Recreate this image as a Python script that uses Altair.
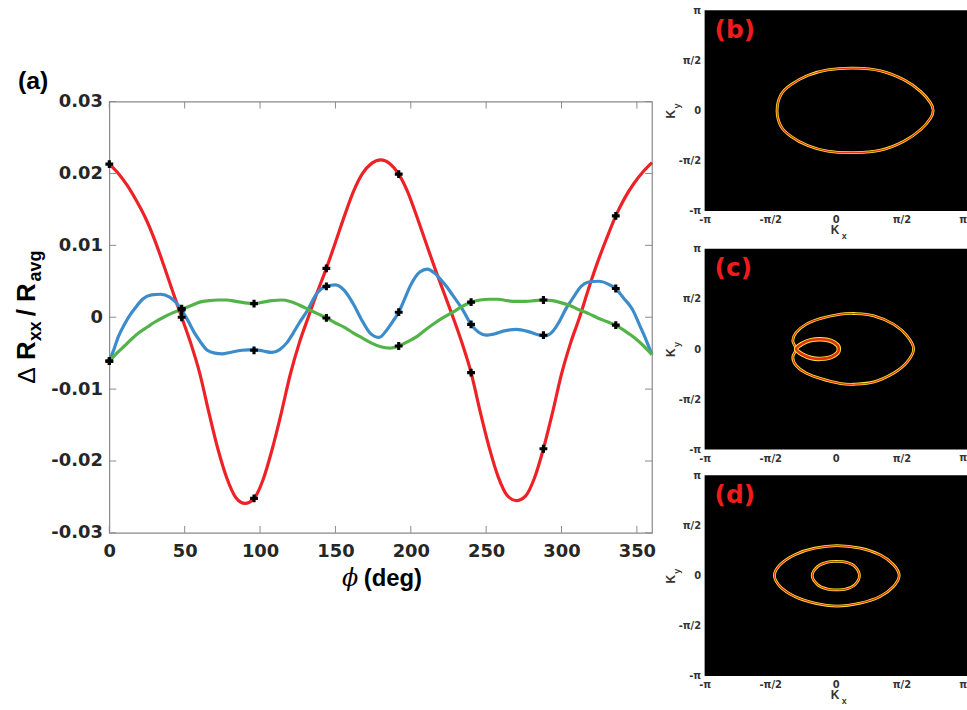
import altair as alt
import pandas as pd

# ---------------- panel (a) data ----------------
red_phi = [0, 6, 12, 18, 24, 30, 36, 42, 48, 54, 60, 66, 72, 78, 84, 90, 96, 102, 108, 114, 120,
           126, 132, 138, 144, 150, 156, 162, 168, 174, 180, 186, 192, 198, 204, 210, 216, 222, 228,
           234, 240, 246, 252, 258, 264, 270, 276, 282, 288, 294, 300, 306, 312, 318, 324, 330, 336,
           342, 348, 354, 360]
red_val = [0.0213, 0.0200, 0.0183, 0.0162, 0.0138, 0.0108, 0.0073, 0.0036, 0.0000, -0.0036, -0.0078,
           -0.0132, -0.0183, -0.0224, -0.0251, -0.0259, -0.0252, -0.0226, -0.0184, -0.0134, -0.0080,
           -0.0036, 0.0000, 0.0035, 0.0068, 0.0104, 0.0141, 0.0175, 0.0200, 0.0214, 0.0219, 0.0214,
           0.0199, 0.0174, 0.0140, 0.0104, 0.0068, 0.0034, 0.0000, -0.0036, -0.0077, -0.0131, -0.0181,
           -0.0222, -0.0248, -0.0255, -0.0249, -0.0224, -0.0183, -0.0133, -0.0079, -0.0036, 0.0000,
           0.0040, 0.0077, 0.0110, 0.0141, 0.0166, 0.0186, 0.0202, 0.0215]

blue_phi = [0, 3, 6, 10, 14, 18, 22, 28, 34, 40, 44, 48, 52, 56, 60, 65, 70, 75, 80, 88, 96, 102,
            108, 113, 118, 122, 126, 131, 138, 144, 150, 156, 162, 167, 173, 179, 184, 188, 192, 196,
            200, 206, 211, 216, 220, 224, 228, 234, 240, 245, 250, 256, 262, 270, 278, 284, 289, 294,
            298, 303, 308, 313, 318, 325, 331, 336, 341, 347, 352, 356, 360]
blue_val = [-0.0061, -0.0045, -0.0027, -0.0010, 0.0004, 0.0015, 0.0025, 0.0031, 0.0032, 0.0028,
            0.0021, 0.0010, -0.0004, -0.0020, -0.0033, -0.0046, -0.0050, -0.0051, -0.0049, -0.0046,
            -0.0045, -0.0047, -0.0049, -0.0045, -0.0035, -0.0022, -0.0008, 0.0008, 0.0034, 0.0043,
            0.0045, 0.0037, 0.0018, -0.0002, -0.0022, -0.0028, -0.0018, -0.0006, 0.0007, 0.0026,
            0.0045, 0.0063, 0.0067, 0.0061, 0.0052, 0.0042, 0.0030, 0.0012, -0.0010, -0.0021,
            -0.0025, -0.0023, -0.0019, -0.0017, -0.0020, -0.0024, -0.0026, -0.0020, -0.0008, 0.0012,
            0.0028, 0.0043, 0.0049, 0.0050, 0.0046, 0.0040, 0.0027, 0.0011, -0.0012, -0.0031, -0.0052]

green_phi = [0, 5, 10, 15, 20, 25, 30, 36, 42, 48, 54, 60, 66, 72, 78, 84, 90, 96, 102, 108, 114,
             120, 126, 132, 138, 144, 150, 156, 162, 168, 174, 180, 186, 192, 198, 204, 210, 216,
             222, 228, 234, 240, 246, 252, 258, 264, 270, 276, 282, 288, 294, 300, 306, 312, 318,
             324, 330, 336, 342, 348, 354, 360]
green_val = [-0.0061, -0.0050, -0.0040, -0.0030, -0.0021, -0.0014, -0.0007, 0.0000, 0.0006, 0.0011,
             0.0016, 0.0021, 0.0023, 0.0024, 0.0024, 0.0022, 0.0020, 0.0019, 0.0021, 0.0023, 0.0024,
             0.0022, 0.0017, 0.0011, 0.0005, -0.0001, -0.0008, -0.0014, -0.0022, -0.0029, -0.0036,
             -0.0041, -0.0043, -0.0040, -0.0034, -0.0027, -0.0017, -0.0008, 0.0000, 0.0007, 0.0015,
             0.0021, 0.0024, 0.0025, 0.0025, 0.0023, 0.0022, 0.0022, 0.0023, 0.0024, 0.0023, 0.0020,
             0.0016, 0.0010, 0.0005, -0.0001, -0.0006, -0.0011, -0.0019, -0.0028, -0.0039, -0.0052]

marker_phi = [0, 48, 96, 144, 192, 240, 288, 336]
marker_red = [0.0213, 0.0012, -0.0252, 0.0068, 0.0199, -0.0077, -0.0183, 0.0141]
marker_blue = [-0.0061, 0.0000, -0.0046, 0.0043, 0.0007, -0.0010, -0.0025, 0.0040]
marker_green = [-0.0061, 0.0010, 0.0019, -0.0001, -0.0040, 0.0021, 0.0024, -0.0011]

series_names = ["red", "blue", "green"]
series_colors = ["#ec2227", "#3c8ccb", "#52b448"]

x_ticks = [0, 50, 100, 150, 200, 250, 300, 350]
y_ticks = [-0.03, -0.02, -0.01, 0, 0.01, 0.02, 0.03]

# ---------------- panels (b)-(d) data: contour points in units of pi ----------------
b_outer_kx = [-0.448, -0.418, -0.342, -0.215, -0.063, 0.139, 0.342, 0.519, 0.646, 0.722, 0.742,
              0.722, 0.646, 0.519, 0.342, 0.139, -0.063, -0.215, -0.342, -0.418]
b_outer_ky = [0.0, 0.158, 0.257, 0.349, 0.405, 0.422, 0.395, 0.306, 0.191, 0.076, 0.0,
              -0.076, -0.191, -0.306, -0.395, -0.420, -0.405, -0.349, -0.257, -0.158]

c_outer_kx = [-0.303, -0.328, -0.303, -0.227, -0.114, 0.038, 0.139, 0.290, 0.442, 0.543, 0.593,
              0.543, 0.442, 0.290, 0.139, 0.038, -0.114, -0.227, -0.303, -0.328, -0.303]
c_outer_ky = [0.010, 0.082, 0.164, 0.246, 0.305, 0.348, 0.354, 0.331, 0.246, 0.131, 0.0,
              -0.131, -0.239, -0.328, -0.351, -0.344, -0.295, -0.239, -0.164, -0.082, -0.010]
c_inner_kx = [-0.303, -0.253, -0.189, -0.114, -0.038, 0.013, 0.023, 0.013, -0.038, -0.114, -0.189, -0.253]
c_inner_ky = [0.0, 0.056, 0.089, 0.098, 0.082, 0.039, 0.0, -0.039, -0.082, -0.098, -0.089, -0.056]

d_outer_kx = [-0.468, -0.425, -0.3125, -0.1625, 0.01, 0.1875, 0.3375, 0.44, 0.483, 0.44, 0.3375,
              0.1875, 0.01, -0.1625, -0.3125, -0.425]
d_outer_ky = [0.0, 0.108, 0.208, 0.273, 0.299, 0.273, 0.207, 0.108, 0.0, -0.108, -0.207, -0.273,
              -0.303, -0.273, -0.208, -0.108]
d_inner_kx = [-0.18, -0.1375, -0.0625, 0.005, 0.075, 0.145, 0.18, 0.145, 0.075, 0.005, -0.0625, -0.1375]
d_inner_ky = [0.0, 0.092, 0.135, 0.141, 0.135, 0.092, 0.0, -0.092, -0.135, -0.141, -0.135, -0.092]

pi_ticks_x = [-1, -0.5, 0, 0.5]
pi_ticks_y = [-1, -0.5, 0, 0.5, 1]

# ---------------- build tables ----------------
curve_rows = []
for name, ph, vals in [("red", red_phi, red_val), ("blue", blue_phi, blue_val), ("green", green_phi, green_val)]:
    for p, v in zip(ph, vals):
        curve_rows.append({"phi": p, "val": v, "series": name})
curve_df = pd.DataFrame(curve_rows)

marker_rows = []
for name, vals in [("red", marker_red), ("blue", marker_blue), ("green", marker_green)]:
    for p, v in zip(marker_phi, vals):
        marker_rows.append({"phi": p, "val": v, "series": name})
marker_df = pd.DataFrame(marker_rows)

one = pd.DataFrame({"k": [0]})

W, H = 546, 434
AXC = "#8a8a8a"
TXT = "#262626"

xs = alt.Scale(domain=[0, 360], nice=False, zero=False)
ys = alt.Scale(domain=[-0.03, 0.03], nice=False, zero=False)
x_axis = alt.Axis(values=x_ticks, domain=False, ticks=False, grid=False, labelFont="DejaVu Sans",
                  labelFontWeight="bold", labelFontSize=18, labelColor=TXT, labelPadding=10, title=None,
                  labelFlush=False, labelOverlap=False)
y_axis = alt.Axis(values=y_ticks, domain=False, ticks=False, grid=False, labelFont="DejaVu Sans",
                  labelFontWeight="bold", labelFontSize=18, labelColor=TXT, labelPadding=7, title=None,
                  labelFlush=False, labelOverlap=False,
                  labelExpr="datum.value == 0 ? '0' : (datum.value < 0 ? '-' : '') + format(abs(datum.value), '.2f')")

lines = alt.Chart(curve_df).mark_line(strokeWidth=3.2, interpolate="monotone").encode(
    x=alt.X("phi:Q", scale=xs, axis=x_axis),
    y=alt.Y("val:Q", scale=ys, axis=y_axis),
    color=alt.Color("series:N", scale=alt.Scale(domain=series_names, range=series_colors), legend=None),
    detail="series:N",
)
points = alt.Chart(marker_df).mark_point(shape="cross", filled=True, size=62, color="black", opacity=1).encode(
    x=alt.X("phi:Q", scale=xs, axis=x_axis),
    y=alt.Y("val:Q", scale=ys, axis=y_axis),
)
xt_df = pd.DataFrame({"t": x_ticks})
yt_df = pd.DataFrame({"t": y_ticks})
tick_b = alt.Chart(xt_df).mark_rule(color=AXC, strokeWidth=1).encode(
    x=alt.X("t:Q", scale=xs, axis=x_axis), y=alt.value(H), y2=alt.value(H - 7))
tick_t = alt.Chart(xt_df).mark_rule(color=AXC, strokeWidth=1).encode(
    x=alt.X("t:Q", scale=xs, axis=x_axis), y=alt.value(0), y2=alt.value(7))
tick_l = alt.Chart(yt_df).mark_rule(color=AXC, strokeWidth=1).encode(
    y=alt.Y("t:Q", scale=ys, axis=y_axis), x=alt.value(0), x2=alt.value(7))
tick_r = alt.Chart(yt_df).mark_rule(color=AXC, strokeWidth=1).encode(
    y=alt.Y("t:Q", scale=ys, axis=y_axis), x=alt.value(W - 7), x2=alt.value(W))


def txt(s, x, y, size, weight="bold", font="Liberation Sans", color="black", angle=0, align="left",
        style="normal", baseline="alphabetic"):
    kw = dict(text=s, fontSize=size, fontWeight=weight, font=font, color=color, align=align,
              baseline=baseline, fontStyle=style)
    if angle:
        kw["angle"] = angle
    return alt.Chart(one).mark_text(**kw).encode(x=alt.value(x), y=alt.value(y))


label_a = txt("(a)", -92, -13, 25)
# y title pieces (rotated, reading upward)
yt0 = txt("\u0394", -75, 284, 25, weight="normal", angle=270)
yt1 = txt("R", -75, 260, 26, angle=270)
yt2 = txt("xx", -69, 241, 18, angle=270)
yt3 = txt("/ R", -75, 216, 26, angle=270)
yt4 = txt("avg", -69, 181, 18, angle=270)
# x title
xt1 = txt("\u03d5", 234, 487, 24, weight="normal", font="DejaVu Serif", style="italic")
xt2 = txt("(deg)", 256, 487, 24)

main = alt.layer(lines, points, tick_b, tick_t, tick_l, tick_r, label_a, yt0, yt1, yt2, yt3, yt4,
                 xt1, xt2).properties(
    width=W, height=H, view=alt.ViewBackground(fill="white", stroke=AXC, strokeWidth=1.2))

spacer = alt.Chart(one).mark_point(opacity=0).encode(x=alt.value(0), y=alt.value(0)).properties(
    width=W, height=58, view=alt.ViewBackground(stroke=None, fill=None))

# ---------------- panels ----------------
PW, PH = 264, 202
ps = alt.Scale(domain=[-1, 1], nice=False, zero=False)
pi_expr = ("datum.value == 0 ? '0' : datum.value == 1 ? '\u03c0' : datum.value == -1 ? '-\u03c0' : "
           "datum.value == 0.5 ? '\u03c0/2' : '-\u03c0/2'")
px_axis = alt.Axis(values=pi_ticks_x, labelExpr=pi_expr, domain=False, ticks=False, grid=False,
                   labelFont="DejaVu Sans", labelFontWeight="bold", labelFontSize=10, labelColor="#333",
                   labelPadding=4, title=None, labelFlush=False, labelOverlap=False)
py_axis = alt.Axis(values=pi_ticks_y, labelExpr=pi_expr, domain=False, ticks=False, grid=False,
                   labelFont="DejaVu Sans", labelFontWeight="bold", labelFontSize=10, labelColor="#333",
                   labelPadding=4, title=None, labelFlush=False, labelOverlap=False)


def panel(tag, loops, widths, kx_title=True):
    rows = []
    for li, (kx, ky) in enumerate(loops):
        for i, (a, b) in enumerate(zip(kx, ky)):
            rows.append({"kx": a, "ky": b, "ord": i, "loop": li})
    df = pd.DataFrame(rows)
    layers = []
    for li, (gw, cw) in enumerate(widths):
        sub = df[df["loop"] == li]
        enc = dict(x=alt.X("kx:Q", scale=ps, axis=px_axis), y=alt.Y("ky:Q", scale=ps, axis=py_axis),
                   order="ord:Q")
        layers.append(alt.Chart(sub).mark_line(interpolate="cardinal-closed", color="#ffe53b",
                                               strokeWidth=gw).encode(**enc))
        layers.append(alt.Chart(sub).mark_line(interpolate="cardinal-closed", color="#e0300f",
                                               strokeWidth=cw).encode(**enc))
    layers += [txt(tag, 10, 28, 25, color="#ee1c1c", font="DejaVu Sans"),
               txt("\u03c0", PW, PH + 4, 10, font="DejaVu Sans", color="#333", align="right",
                   baseline="top"),
               txt("K", -30, PH / 2 + 8, 12, angle=270, color="#333"),
               txt("y", -25, PH / 2 - 2, 9, angle=270, color="#333")]
    if kx_title:
        layers += [txt("K", PW / 2 - 5, PH + 23, 12, color="#333"),
                   txt("x", PW / 2 + 6, PH + 28, 9, color="#333")]
    return alt.layer(*layers).properties(width=PW, height=PH,
                                         view=alt.ViewBackground(fill="black", stroke=None))


pb = panel("(b)", [(b_outer_kx, b_outer_ky)], [(2.8, 1.2)])
pc = panel("(c)", [(c_outer_kx, c_outer_ky), (c_inner_kx, c_inner_ky)], [(2.8, 1.2), (4.5, 2.6)],
           kx_title=False)
pd_ = panel("(d)", [(d_outer_kx, d_outer_ky), (d_inner_kx, d_inner_ky)], [(2.8, 1.2), (2.8, 1.2)])

left = alt.vconcat(spacer, main, spacing=0)
right = alt.vconcat(alt.vconcat(pb, pc, spacing=3), pd_, spacing=7)
chart = alt.hconcat(left, right, spacing=6).properties(
    padding={"left": 13, "top": 3, "right": 0, "bottom": 0},
    background="white",
)

chart.save("out.html", embed_options={"renderer": "svg", "actions": False})
